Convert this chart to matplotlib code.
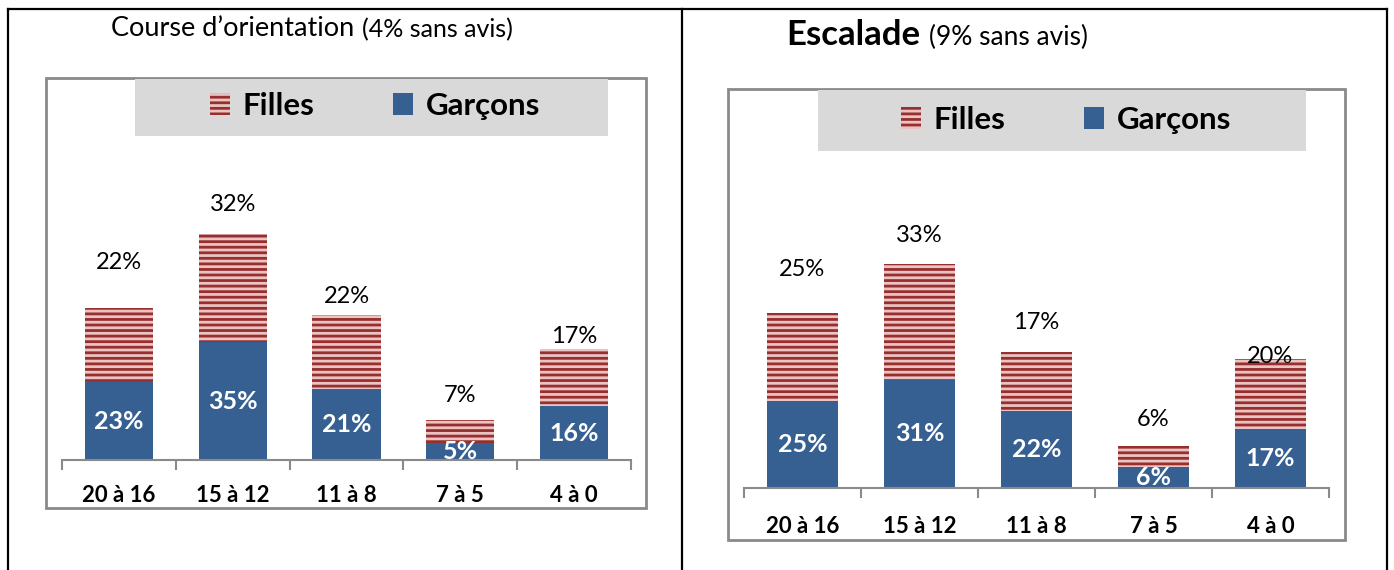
import matplotlib.pyplot as plt
from matplotlib.patches import Rectangle, Patch
from matplotlib.lines import Line2D

# Data
categories = ["20 à 16", "15 à 12", "11 à 8", "7 à 5", "4 à 0"]

co_garcons = [23, 35, 21, 5, 16]
co_filles = [22, 32, 22, 7, 17]

esc_garcons = [25, 31, 22, 6, 17]
esc_filles = [25, 33, 17, 6, 20]

# where the "Filles" labels sit above each bar (in % units, as in the picture)
co_label_gap = [13.6, 8.9, 5.6, 7.1, 3.6]
esc_label_gap = [12.3, 8.0, 8.3, 7.7, 0.6]

BLUE = "#376092"
RED_DARK = "#972F2E"
RED_LIGHT = "#EBC3C2"
GRID_GRAY = "#8A8A8A"
LEG_GRAY = "#D9D9D9"

W, H = 1394, 570
plt.rcParams["font.family"] = ["Lato", "DejaVu Sans"]
plt.rcParams["hatch.linewidth"] = 2.0

fig = plt.figure(figsize=(W / 100, H / 100), dpi=100)


def fx(x):
    return x / W


def fy(y):
    return 1 - y / H


def box(x0, y0, x1, y1, **kw):
    fig.add_artist(Rectangle((fx(x0), fy(y1)), (x1 - x0) / W, (y1 - y0) / H,
                             transform=fig.transFigure, **kw))


def line(x0, y0, x1, y1):
    fig.add_artist(Line2D([fx(x0), fx(x1)], [fy(y0), fy(y1)],
                          transform=fig.transFigure, color="black", lw=1.6))


# table borders
line(8, 9, 1387, 9)
line(8, 9, 8, 570)
line(682, 9, 682, 570)
line(1387, 9, 1387, 570)


def draw_chart(rect, garcons, filles, gaps, ppp, label_pad):
    x0, ytop, x1, ybase = rect
    ax = fig.add_axes([fx(x0), fy(ybase), (x1 - x0) / W, (ybase - ytop) / H])
    xs = list(range(len(categories)))
    ax.bar(xs, garcons, width=0.6, color=BLUE, linewidth=0)
    ax.bar(xs, filles, width=0.6, bottom=garcons, color=RED_LIGHT,
           edgecolor=RED_DARK, hatch="---", linewidth=0)
    for i in xs:
        ax.text(i, garcons[i] / 2, f"{garcons[i]}%", ha="center", va="center",
                color="white", fontsize=18, fontweight="bold")
        ax.text(i, garcons[i] + filles[i] + gaps[i], f"{filles[i]}%",
                ha="center", va="center", color="black", fontsize=17)
    ax.set_xlim(-0.5, len(categories) - 0.5)
    ax.set_ylim(0, (ybase - ytop) / ppp)
    for s in ["top", "left", "right"]:
        ax.spines[s].set_visible(False)
    ax.spines["bottom"].set_color(GRID_GRAY)
    ax.spines["bottom"].set_linewidth(1.5)
    ax.set_yticks([])
    ax.set_xticks([i - 0.5 for i in range(len(categories) + 1)])
    ax.set_xticklabels([])
    ax.tick_params(axis="x", which="major", length=7, width=1.5,
                   color=GRID_GRAY)
    ax.set_xticks(xs, minor=True)
    ax.set_xticklabels(categories, minor=True, fontsize=16, fontweight="bold")
    ax.tick_params(axis="x", which="minor", length=0, pad=label_pad)
    ax.patch.set_alpha(0)
    return ax


def draw_legend(cx, cy):
    handles = [Patch(facecolor=RED_LIGHT, edgecolor=RED_DARK, hatch="---",
                     linewidth=0),
               Patch(facecolor=BLUE, linewidth=0)]
    fig.legend(handles, ["Filles", "Garçons"], loc="center",
               bbox_to_anchor=(fx(cx), fy(cy)), ncol=2, frameon=False,
               prop={"size": 22.5, "weight": "bold"}, handlelength=0.65,
               handleheight=0.7, handletextpad=0.4, columnspacing=2.5)


# left panel: Course d'orientation
box(46, 78, 646, 508, fill=False, edgecolor=GRID_GRAY, lw=2)
box(135, 79, 608, 136, facecolor=LEG_GRAY, edgecolor="none")
draw_legend(375, 106)
draw_chart((62, 150, 631, 460), co_garcons, co_filles, co_label_gap, 3.37, 18)
fig.text(fx(354), fy(29), "Course d’orientation", ha="right", va="center",
         fontsize=19.5)
fig.text(fx(362), fy(30), "(4% sans avis)", ha="left", va="center",
         fontsize=18)

# right panel: Escalade
box(728, 89, 1345, 540, fill=False, edgecolor=GRID_GRAY, lw=2)
box(818, 90, 1306, 151, facecolor=LEG_GRAY, edgecolor="none")
draw_legend(1066, 120)
draw_chart((744, 160, 1329, 488), esc_garcons, esc_filles, esc_label_gap,
           3.5, 20)
fig.text(fx(920), fy(35), "Escalade", ha="right", va="center",
         fontsize=25, fontweight="bold")
fig.text(fx(929), fy(37), "(9% sans avis)", ha="left", va="center",
         fontsize=19)

fig.savefig("out.png", dpi=100)
